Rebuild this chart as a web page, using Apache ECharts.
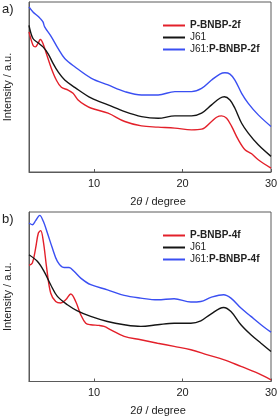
<!DOCTYPE html>
<html><head><meta charset="utf-8">
<script src="https://cdn.jsdelivr.net/npm/echarts@6/dist/echarts.min.js"></script>
<style>html,body{margin:0;padding:0;background:#fff}#c{width:280px;height:417px}</style>
</head><body><div id="c"></div>
<script>
// Panel a
const aRedX = [2.64,3.09,3.36,3.66,3.92,4.22,4.6,5.17,5.73,6.3,7.06,7.62,8.19,8.94,9.7,11.58,13.47,15.36,17.24,19.13,21.02,22.15,23.28,23.85,24.41,24.98,25.55,26.3,27.06,27.81,28.56,30];
const aRedY = [82.4,74.6,73.6,75.6,77.9,75.6,69.7,60.9,54.1,49.8,48.2,46.3,42.4,39.5,37.5,34.6,29.7,27.1,26.4,25.8,24.8,25.2,29.7,32.2,33.0,31.6,26.8,19.0,13.1,10.7,7.2,2.3];
const aBlackX = [2.64,3.09,3.66,4.22,4.79,5.36,5.92,6.68,7.81,9.7,11.58,13.47,15.36,17.24,19.13,21.02,22.15,23.28,24.22,24.72,25.36,25.92,26.68,27.43,28.56,30];
const aBlackY = [86.3,78.5,76.0,73.6,69.7,63.9,59.0,54.1,49.8,43.4,39.5,35.5,32.6,31.6,33.0,33.0,34.6,39.5,43.4,44.3,42.4,37.5,28.7,22.9,16.0,9.2];
const aBlueX = [2.64,3.09,3.66,3.92,4.22,4.41,5.17,5.92,6.68,7.81,9.7,11.58,13.47,15.36,17.24,19.13,21.02,22.15,23.28,24.22,24.79,25.36,25.92,26.68,27.43,28.56,30];
const aBlueY = [97.1,94.1,91.6,90.2,88.3,85.4,79.5,72.7,66.8,61.9,55.1,51.2,47.3,45.3,45.3,47.3,47.3,49.2,54.1,57.6,58.4,57.6,54.1,46.3,40.4,33.6,26.8];
// Panel b
const bRedX = [2.64,3.02,3.39,3.70,3.96,4.26,4.64,5.09,5.66,6.22,6.79,7.36,7.92,8.49,9.06,9.62,10.56,11.13,11.89,13.4,15.28,17.17,19.05,20.94,22.83,24.72,26.6,28.49,30];
const bRedY = [68.5,69.9,78.7,87.6,89.0,82.7,66.9,52.2,47.2,46.3,48.2,51.6,47.2,39.4,34.4,33.5,33.1,32.5,30.5,26.6,24.6,22.6,20.7,18.7,15.7,12.8,8.9,4.9,1.0];
const bBlackX = [2.64,3.58,4.34,5.09,5.85,6.98,8.11,9.62,11.51,13.4,15.28,17.17,19.05,20.94,22.07,23.2,24.64,25.47,26.6,27.73,28.87,30];
const bBlackY = [74.8,70.9,65.0,57.1,50.2,45.3,41.7,38.4,35.4,33.5,32.5,33.5,34.4,34.4,35.8,39.8,43.7,41.3,33.5,27.6,22.6,17.7];
const bBlueX = [2.64,3.02,3.39,3.85,4.26,4.72,5.28,5.85,6.6,7.17,7.73,8.49,9.62,11.51,13.4,15.28,17.17,19.05,20.94,22.07,23.2,24.64,25.47,26.6,27.73,28.87,30];
const bBlueY = [93.5,92.5,94.9,98.0,94.5,87.6,78.7,70.9,67.3,67.3,65.0,61.0,57.1,54.1,50.8,49.2,48.2,48.8,46.9,47.2,49.6,51.2,49.2,43.3,38.4,33.5,29.1];

const xTicks = [10, 20, 30];
const namesA = ['P-BNBP-2f', 'J61', 'J61:P-BNBP-2f'];
const namesB = ['P-BNBP-4f', 'J61', 'J61:P-BNBP-4f'];
const colors = ['#e3202a', '#151515', '#3a4ff2'];

const FONT = 'Liberation Sans';
const zip = (xs, ys) => xs.map((x, i) => [x, ys[i]]);

function xAxisCfg(idx) {
  return {
    gridIndex: idx, type: 'value', min: 2.64, max: 30,
    axisLine: { lineStyle: { color: '#5a5a5a', width: 1 } },
    axisTick: { inside: true, length: 3, customValues: xTicks, lineStyle: { color: '#5a5a5a' } },
    axisLabel: { customValues: xTicks, fontFamily: FONT, fontSize: 11, color: '#222', margin: 6 },
    splitLine: { show: false },
    name: '{n|2}{i|θ}{n| / degree}', nameLocation: 'middle', nameGap: 24,
    nameTextStyle: { padding: [0, 0, 0, 16], rich: {
      n: { fontFamily: FONT, fontSize: 11, color: '#222' },
      i: { fontFamily: FONT, fontSize: 11, color: '#222', fontStyle: 'italic' } } }
  };
}
function yAxisCfg(idx) {
  return {
    gridIndex: idx, type: 'value', min: 0, max: 100,
    axisLine: { show: true, lineStyle: { color: '#5a5a5a' } },
    axisTick: { show: false }, axisLabel: { show: false }, splitLine: { show: false },
    name: 'Intensity / a.u.', nameLocation: 'middle', nameGap: 16,
    nameTextStyle: { fontFamily: FONT, fontSize: 11, color: '#222' }
  };
}
function legendCfg(names, top) {
  return {
    data: names, orient: 'vertical', left: 158, top: top,
    icon: 'rect', itemWidth: 22, itemHeight: 2, itemGap: 2,
    formatter: n => n.startsWith('J61:') ? '{n|J61:}{b|' + n.slice(4) + '}' : (n === 'J61' ? '{n|J61}' : '{b|' + n + '}'),
    textStyle: { rich: {
      n: { fontFamily: FONT, fontSize: 10, color: '#222', lineHeight: 10.3 },
      b: { fontFamily: FONT, fontSize: 10, color: '#222', fontWeight: 'bold', lineHeight: 10.3 } } }
  };
}
function line(name, data, color, idx) {
  return { type: 'line', name, data, xAxisIndex: idx, yAxisIndex: idx, symbol: 'none',
    smooth: 0.35, lineStyle: { color, width: 1.4 }, itemStyle: { color }, z: 3 };
}

const chart = echarts.init(document.getElementById('c'), null, { renderer: 'canvas' });
chart.setOption({
  animation: false,
  grid: [
    { left: 29, right: 9, top: 2, height: 170, show: true, borderColor: '#5a5a5a', borderWidth: 1, outerBoundsMode: 'none', containLabel: false },
    { left: 29, right: 9, top: 212, height: 169.5, show: true, borderColor: '#5a5a5a', borderWidth: 1, outerBoundsMode: 'none', containLabel: false }
  ],
  xAxis: [xAxisCfg(0), xAxisCfg(1)],
  yAxis: [yAxisCfg(0), yAxisCfg(1)],
  legend: [legendCfg(namesA, 15.5), legendCfg(namesB, 225.5)],
  graphic: [
    { type: 'text', left: 2, top: 3, style: { text: 'a)', font: '13px "Liberation Sans"', fill: '#222' } },
    { type: 'text', left: 2, top: 213, style: { text: 'b)', font: '13px "Liberation Sans"', fill: '#222' } }
  ],
  series: [
    line(namesA[0], zip(aRedX, aRedY), colors[0], 0),
    line(namesA[1], zip(aBlackX, aBlackY), colors[1], 0),
    line(namesA[2], zip(aBlueX, aBlueY), colors[2], 0),
    line(namesB[0], zip(bRedX, bRedY), colors[0], 1),
    line(namesB[1], zip(bBlackX, bBlackY), colors[1], 1),
    line(namesB[2], zip(bBlueX, bBlueY), colors[2], 1)
  ]
});
</script></body></html>
